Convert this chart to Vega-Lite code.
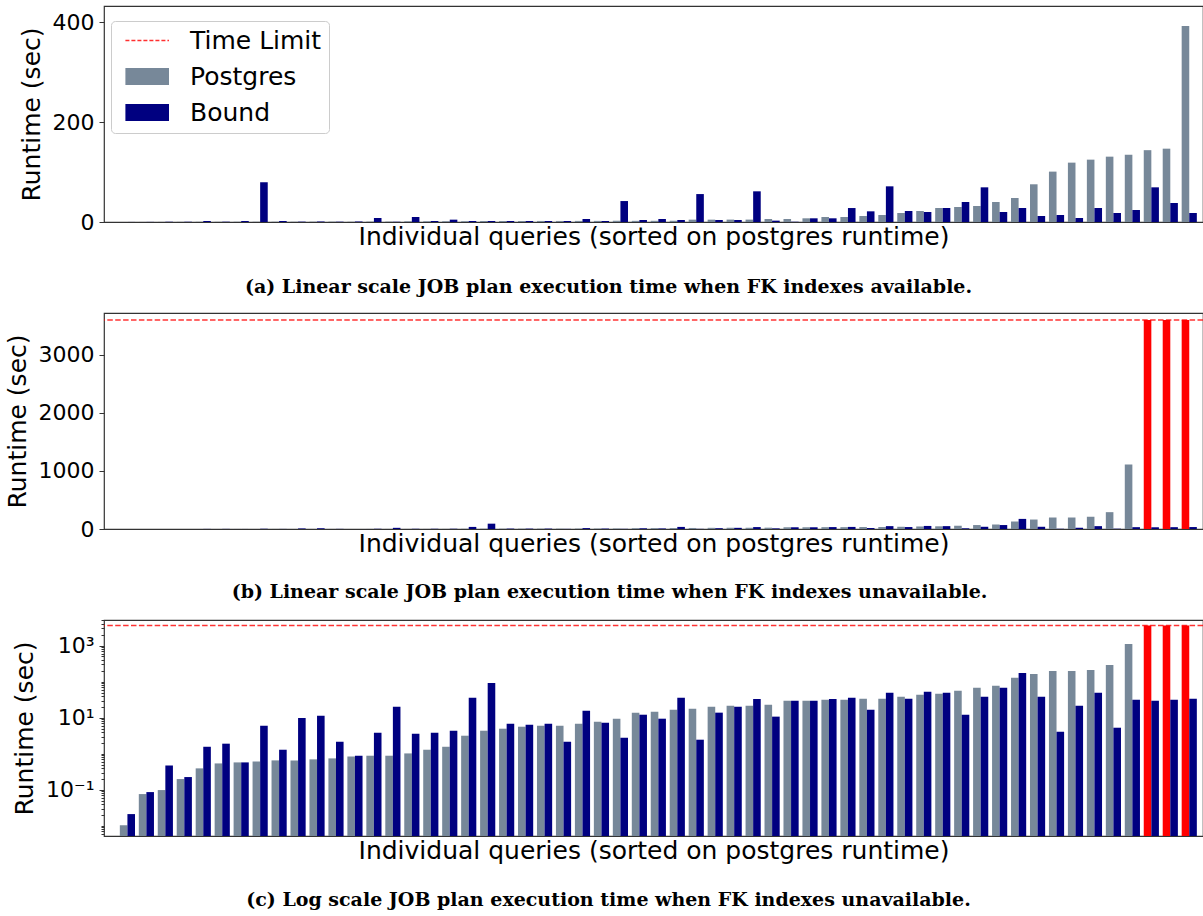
{
  "$schema": "https://vega.github.io/schema/vega-lite/v6.json",
  "padding": {"left": 4, "top": 5, "right": 2, "bottom": 5},
  "background": "white",
  "bounds": "flush",
  "spacing": 91,
  "config": {
    "font": "DejaVu Sans",
    "view": {"stroke": "#333333", "strokeWidth": 1.2},
    "axis": {"labelFont": "DejaVu Sans", "labelFontSize": 22, "labelColor": "#000000", "titleFont": "DejaVu Sans", "titleFontSize": 25, "titleFontWeight": "normal", "titleColor": "#000000", "tickColor": "#333333", "domainColor": "#333333", "tickSize": 5, "labelPadding": 5, "titlePadding": 8, "grid": false},
    "title": {"font": "DejaVu Serif", "fontSize": 19, "fontWeight": "bold", "color": "#000000"}
  },
  "datasets": {
    "fk": [
      {"q": 1, "Postgres": 0.05, "Bound": 0.1},
      {"q": 2, "Postgres": 0.1, "Bound": 0.2},
      {"q": 3, "Postgres": 0.2, "Bound": 0.3},
      {"q": 4, "Postgres": 0.3, "Bound": 0.5},
      {"q": 5, "Postgres": 0.4, "Bound": 2.0},
      {"q": 6, "Postgres": 0.4, "Bound": 0.6},
      {"q": 7, "Postgres": 0.5, "Bound": 2.0},
      {"q": 8, "Postgres": 0.5, "Bound": 79.6},
      {"q": 9, "Postgres": 0.5, "Bound": 2.0},
      {"q": 10, "Postgres": 0.6, "Bound": 0.7},
      {"q": 11, "Postgres": 0.6, "Bound": 0.8},
      {"q": 12, "Postgres": 0.7, "Bound": 0.6},
      {"q": 13, "Postgres": 0.7, "Bound": 0.9},
      {"q": 14, "Postgres": 0.8, "Bound": 8.0},
      {"q": 15, "Postgres": 0.8, "Bound": 0.5},
      {"q": 16, "Postgres": 1.5, "Bound": 10.0},
      {"q": 17, "Postgres": 1.5, "Bound": 2.0},
      {"q": 18, "Postgres": 1.6, "Bound": 4.7},
      {"q": 19, "Postgres": 1.6, "Bound": 2.0},
      {"q": 20, "Postgres": 2.0, "Bound": 2.0},
      {"q": 21, "Postgres": 2.0, "Bound": 2.0},
      {"q": 22, "Postgres": 2.0, "Bound": 2.0},
      {"q": 23, "Postgres": 2.1, "Bound": 2.0},
      {"q": 24, "Postgres": 2.1, "Bound": 2.0},
      {"q": 25, "Postgres": 2.2, "Bound": 6.0},
      {"q": 26, "Postgres": 2.2, "Bound": 2.0},
      {"q": 27, "Postgres": 2.3, "Bound": 42},
      {"q": 28, "Postgres": 2.3, "Bound": 4.0},
      {"q": 29, "Postgres": 2.4, "Bound": 6.0},
      {"q": 30, "Postgres": 2.5, "Bound": 4.0},
      {"q": 31, "Postgres": 4.7, "Bound": 56},
      {"q": 32, "Postgres": 4.7, "Bound": 4.0},
      {"q": 33, "Postgres": 4.8, "Bound": 4.0},
      {"q": 34, "Postgres": 4.8, "Bound": 61.5},
      {"q": 35, "Postgres": 6.0, "Bound": 2.7},
      {"q": 36, "Postgres": 6.0, "Bound": 0.5},
      {"q": 37, "Postgres": 7.4, "Bound": 7.4},
      {"q": 38, "Postgres": 10, "Bound": 7.4},
      {"q": 39, "Postgres": 10, "Bound": 28},
      {"q": 40, "Postgres": 12.0, "Bound": 21.4},
      {"q": 41, "Postgres": 14.0, "Bound": 71.5},
      {"q": 42, "Postgres": 18.1, "Bound": 22.1},
      {"q": 43, "Postgres": 22.1, "Bound": 20.1},
      {"q": 44, "Postgres": 28.1, "Bound": 28.1},
      {"q": 45, "Postgres": 30.1, "Bound": 40.1},
      {"q": 46, "Postgres": 32.1, "Bound": 69.5},
      {"q": 47, "Postgres": 40.1, "Bound": 20.1},
      {"q": 48, "Postgres": 48.1, "Bound": 28.1},
      {"q": 49, "Postgres": 75.6, "Bound": 12.0},
      {"q": 50, "Postgres": 101, "Bound": 14.0},
      {"q": 51, "Postgres": 119, "Bound": 8.0},
      {"q": 52, "Postgres": 125, "Bound": 28.1},
      {"q": 53, "Postgres": 131, "Bound": 18.1},
      {"q": 54, "Postgres": 135, "Bound": 24.1},
      {"q": 55, "Postgres": 144, "Bound": 69.5},
      {"q": 56, "Postgres": 147, "Bound": 38.1},
      {"q": 57, "Postgres": 393, "Bound": 18.1}
    ],
    "nofk": [
      {"q": 1, "Postgres": 0.0104, "Bound": 0.0211},
      {"q": 2, "Postgres": 0.0758, "Bound": 0.0861},
      {"q": 3, "Postgres": 0.098, "Bound": 0.474},
      {"q": 4, "Postgres": 0.198, "Bound": 0.225},
      {"q": 5, "Postgres": 0.392, "Bound": 1.56},
      {"q": 6, "Postgres": 0.538, "Bound": 1.9},
      {"q": 7, "Postgres": 0.574, "Bound": 0.574},
      {"q": 8, "Postgres": 0.612, "Bound": 6.0},
      {"q": 9, "Postgres": 0.653, "Bound": 1.29},
      {"q": 10, "Postgres": 0.653, "Bound": 9.8},
      {"q": 11, "Postgres": 0.697, "Bound": 11.4},
      {"q": 12, "Postgres": 0.742, "Bound": 2.15},
      {"q": 13, "Postgres": 0.843, "Bound": 0.88},
      {"q": 14, "Postgres": 0.88, "Bound": 3.83},
      {"q": 15, "Postgres": 0.88, "Bound": 20.2},
      {"q": 16, "Postgres": 1.02, "Bound": 3.6},
      {"q": 17, "Postgres": 1.29, "Bound": 3.83},
      {"q": 18, "Postgres": 1.56, "Bound": 4.35},
      {"q": 19, "Postgres": 3.16, "Bound": 35.9},
      {"q": 20, "Postgres": 4.35, "Bound": 91.8},
      {"q": 21, "Postgres": 4.95, "Bound": 6.8},
      {"q": 22, "Postgres": 5.62, "Bound": 6.39},
      {"q": 23, "Postgres": 6.0, "Bound": 6.8},
      {"q": 24, "Postgres": 6.0, "Bound": 2.15},
      {"q": 25, "Postgres": 6.8, "Bound": 15.6},
      {"q": 26, "Postgres": 7.74, "Bound": 7.26},
      {"q": 27, "Postgres": 9.38, "Bound": 2.78},
      {"q": 28, "Postgres": 13.8, "Bound": 12.1},
      {"q": 29, "Postgres": 14.7, "Bound": 9.38},
      {"q": 30, "Postgres": 16.7, "Bound": 35.9},
      {"q": 31, "Postgres": 17.8, "Bound": 2.45},
      {"q": 32, "Postgres": 20.2, "Bound": 13.8},
      {"q": 33, "Postgres": 21.5, "Bound": 20.2},
      {"q": 34, "Postgres": 21.5, "Bound": 33.0},
      {"q": 35, "Postgres": 23.0, "Bound": 10.7},
      {"q": 36, "Postgres": 29.7, "Bound": 29.7},
      {"q": 37, "Postgres": 29.7, "Bound": 29.7},
      {"q": 38, "Postgres": 31.6, "Bound": 33.0},
      {"q": 39, "Postgres": 31.6, "Bound": 35.9},
      {"q": 40, "Postgres": 33.7, "Bound": 16.7},
      {"q": 41, "Postgres": 33.7, "Bound": 49.5},
      {"q": 42, "Postgres": 38.3, "Bound": 33.7},
      {"q": 43, "Postgres": 43.5, "Bound": 52.7},
      {"q": 44, "Postgres": 46.4, "Bound": 49.5},
      {"q": 45, "Postgres": 56.2, "Bound": 12.1},
      {"q": 46, "Postgres": 68.1, "Bound": 38.3},
      {"q": 47, "Postgres": 77.4, "Bound": 68.1},
      {"q": 48, "Postgres": 129, "Bound": 174},
      {"q": 49, "Postgres": 163, "Bound": 38.3},
      {"q": 50, "Postgres": 198, "Bound": 4.08},
      {"q": 51, "Postgres": 198, "Bound": 21.5},
      {"q": 52, "Postgres": 211, "Bound": 49.5},
      {"q": 53, "Postgres": 290, "Bound": 5.27},
      {"q": 54, "Postgres": 1112, "Bound": 31.6},
      {"q": 55, "Postgres": 3600, "Bound": 29.7, "timeout": true},
      {"q": 56, "Postgres": 3600, "Bound": 31.6, "timeout": true},
      {"q": 57, "Postgres": 3600, "Bound": 33.7, "timeout": true}
    ]
  },
  "vconcat": [
    {
      "width": 1099,
      "height": 216,
      "title": {"text": "(a) Linear scale JOB plan execution time when FK indexes available.", "orient": "bottom", "anchor": "middle", "dx": -45, "offset": 29},
      "data": {"name": "fk"},
      "transform": [{"fold": ["Postgres", "Bound"], "as": ["series", "t"]}],
      "mark": {"type": "bar"},
      "encoding": {
        "x": {"field": "q", "type": "ordinal", "scale": {"paddingInner": 0.2, "paddingOuter": 0.58, "align": 0.72}, "axis": {"labels": false, "ticks": false, "domain": false, "title": "Individual queries (sorted on postgres runtime)", "titlePadding": 2}},
        "xOffset": {"field": "series", "sort": ["Postgres", "Bound"], "scale": {"paddingInner": 0, "paddingOuter": 0}},
        "y": {"field": "t", "type": "quantitative", "stack": null, "scale": {"domain": [0, 433], "nice": false}, "axis": {"values": [0, 200, 400], "title": "Runtime (sec)", "domain": false}},
        "color": {
          "field": "series", "type": "nominal",
          "scale": {"domain": ["Time Limit", "Postgres", "Bound"], "range": ["#ff3030", "#778899", "#000080"]},
          "legend": {
            "title": null, "orient": "none", "legendX": 7, "legendY": 15,
            "labelFont": "DejaVu Sans", "labelFontSize": 25, "labelColor": "#000000",
            "symbolType": "M-1,-1H4.53V1H-1Z", "symbolSize": 289, "symbolStrokeWidth": 0,
            "labelOffset": 47, "rowPadding": 10, "padding": 7,
            "fillColor": "rgba(255,255,255,0.8)", "strokeColor": "#cccccc", "cornerRadius": 4,
            "encode": {
              "symbols": {
                "update": {
                  "shape": {"signal": "datum.value === 'Time Limit' ? 'M-0.6,0H4.53' : 'M-0.6,-1H4.53V1H-0.6Z'"},
                  "fill": {"signal": "datum.value === 'Postgres' ? '#778899' : (datum.value === 'Bound' ? '#000080' : 'transparent')"},
                  "stroke": {"signal": "datum.value === 'Time Limit' ? '#ff3030' : 'transparent'"},
                  "strokeWidth": {"signal": "datum.value === 'Time Limit' ? 1.5 : 0"},
                  "strokeDash": {"value": [4, 2]},
                  "opacity": {"value": 1}
                }
              }
            }
          }
        }
      }
    },
    {
      "width": 1099,
      "height": 216,
      "title": {"text": "(b) Linear scale JOB plan execution time when FK indexes unavailable.", "orient": "bottom", "anchor": "middle", "dx": -44, "offset": 27},
      "layer": [
        {
          "data": {"name": "nofk"},
          "transform": [{"fold": ["Postgres", "Bound"], "as": ["series", "t"]}],
          "mark": {"type": "bar"},
          "encoding": {
            "x": {"field": "q", "type": "ordinal", "scale": {"paddingInner": 0.2, "paddingOuter": 0.58, "align": 0.72}, "axis": {"labels": false, "ticks": false, "domain": false, "title": "Individual queries (sorted on postgres runtime)", "titlePadding": 2}},
            "xOffset": {"field": "series", "sort": ["Postgres", "Bound"], "scale": {"paddingInner": 0, "paddingOuter": 0}},
            "y": {"field": "t", "type": "quantitative", "stack": null, "scale": {"domain": [0, 3720], "nice": false}, "axis": {"values": [0, 1000, 2000, 3000], "format": "d", "title": "Runtime (sec)", "domain": false}},
            "color": {
              "condition": {"test": "datum.timeout && datum.series === 'Postgres'", "value": "#ff0000"},
              "field": "series", "type": "nominal",
              "scale": {"domain": ["Postgres", "Bound"], "range": ["#778899", "#000080"]},
              "legend": null
            }
          }
        },
        {
          "data": {"values": [{"limit": 3600}]},
          "mark": {"type": "rule", "color": "#ff0000", "opacity": 0.8, "strokeDash": [5.5, 2.4], "strokeWidth": 1.5},
          "encoding": {"y": {"field": "limit", "type": "quantitative", "scale": {"domain": [0, 3720], "nice": false}}}
        }
      ],
      "resolve": {"scale": {"color": "independent"}}
    },
    {
      "width": 1099,
      "height": 216,
      "title": {"text": "(c) Log scale JOB plan execution time when FK indexes unavailable.", "orient": "bottom", "anchor": "middle", "dx": -45, "offset": 28},
      "layer": [
        {
          "data": {"name": "nofk"},
          "transform": [{"fold": ["Postgres", "Bound"], "as": ["series", "t"]}],
          "mark": {"type": "bar"},
          "encoding": {
            "x": {"field": "q", "type": "ordinal", "scale": {"paddingInner": 0.2, "paddingOuter": 0.58, "align": 0.72}, "axis": {"labels": false, "ticks": false, "domain": false, "title": "Individual queries (sorted on postgres runtime)", "titlePadding": 2}},
            "xOffset": {"field": "series", "sort": ["Postgres", "Bound"], "scale": {"paddingInner": 0, "paddingOuter": 0}},
            "y": {"field": "t", "type": "quantitative", "stack": null, "scale": {"type": "log", "domain": [0.0052, 5150], "nice": false}, "axis": {"values": [0.1, 10, 1000], "labelExpr": "datum.value >= 1000 ? '10³' : (datum.value >= 10 ? '10¹' : '10⁻¹')", "title": "Runtime (sec)", "domain": false, "orient": "left"}},
            "y2": {"datum": 0.0052},
            "color": {
              "condition": {"test": "datum.timeout && datum.series === 'Postgres'", "value": "#ff0000"},
              "field": "series", "type": "nominal",
              "scale": {"domain": ["Postgres", "Bound"], "range": ["#778899", "#000080"]},
              "legend": null
            }
          }
        },
        {
          "data": {"values": [{"limit": 3600}]},
          "mark": {"type": "rule", "color": "#ff0000", "opacity": 0.8, "strokeDash": [5.5, 2.4], "strokeWidth": 1.5},
          "encoding": {"y": {"field": "limit", "type": "quantitative", "scale": {"type": "log", "domain": [0.0052, 5150], "nice": false}, "axis": {"orient": "left", "values": [0.006, 0.007, 0.008, 0.009, 0.01, 0.02, 0.03, 0.04, 0.05, 0.06, 0.07, 0.08, 0.09, 0.2, 0.3, 0.4, 0.5, 0.6, 0.7, 0.8, 0.9, 1, 2, 3, 4, 5, 6, 7, 8, 9, 20, 30, 40, 50, 60, 70, 80, 90, 100, 200, 300, 400, 500, 600, 700, 800, 900, 2000, 3000, 4000, 5000], "labels": false, "tickSize": 3, "domain": false, "title": null}}}
        }
      ],
      "resolve": {"scale": {"color": "independent"}, "axis": {"y": "independent"}}
    }
  ],
  "resolve": {"scale": {"color": "independent", "x": "independent", "y": "independent"}, "legend": {"color": "independent"}}
}
